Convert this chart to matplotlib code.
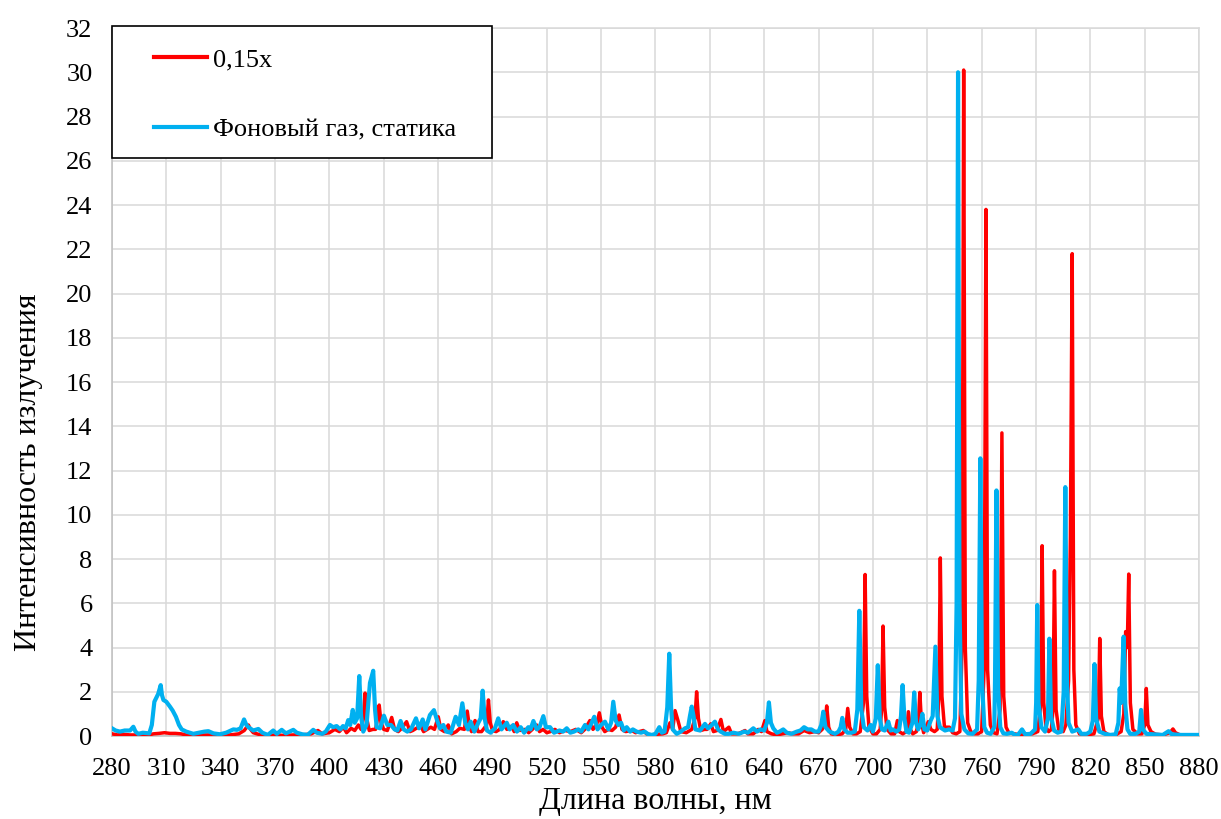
import matplotlib
matplotlib.use('Agg')
import matplotlib.pyplot as plt
from matplotlib.patches import Rectangle


# "Фоновый газ, статика" (blue)
blue_nm = [280, 282, 284.4, 287, 290, 291.8, 293, 294.5, 297, 300.6, 302, 303.4, 305.5, 306.9, 307.6,
           308.4, 310, 312, 313.5, 315.3, 317, 318.5, 321, 324.9, 328, 331, 333.2, 336, 339.6, 343,
           347, 349, 351, 352.9, 354.2, 355.3, 358, 360.8, 363, 366, 369, 371, 373.7, 376, 378,
           380.1, 382, 385, 388, 391.1, 393, 396, 398, 400.3, 402, 404, 406, 407.5, 409, 410.4,
           411.5, 412.9, 414, 415.3, 416.5, 417.5, 418.7, 420.5, 422.4, 424.2, 425.2, 426.1, 428, 430.1, 432,
           434, 436, 437.5, 439.3, 441, 443, 445, 447.8, 449.5, 451.5, 453, 455.5, 457.7, 459.5, 461,
           462.9, 464.5, 467, 469.7, 471.5, 473.4, 475, 476.5, 478, 480, 482.2, 483.5, 484.6, 485.7, 487,
           489, 491.4, 493.2, 495, 497.9, 499.5, 501.5, 503.5, 505.6, 507.5, 509.8, 511, 512.6, 514.5, 516,
           518.1, 519.5, 521.8, 524, 527, 529, 531, 533, 535, 537.4, 539, 541.1, 543, 544.5, 546.2,
           548, 550, 552.1, 554, 555.5, 556.7, 558, 559.5, 561, 562.5, 564.1, 566, 567.5, 569.6, 572,
           574, 576, 578, 580, 582.1, 583.5, 585, 586.5, 587.6, 588.6, 589.5, 591.7, 594, 596.3, 598,
           599, 600, 601, 602, 604.6, 607.3, 609, 610.5, 612.8, 614.5, 616, 618.3, 620.5, 623, 626,
           629, 631, 634, 636, 638, 640, 641.5, 642.6, 643.7, 645, 647, 648.5, 650.5, 652.5, 655,
           658, 660, 662, 664, 666, 668, 670, 671.5, 672.6, 673.8, 676, 679.1, 681, 682.2, 683.1,
           684.2, 686, 688.3, 690, 691.4, 692.5, 693.6, 695, 697, 698.8, 700, 701.6, 702.7, 703.8, 705,
           706.5, 708.5, 709.8, 711, 713, 714.5, 715.5, 716.4, 717.4, 718.5, 720, 721.8, 722.8, 723.8, 725,
           726.2, 727.3, 728.4, 730, 731.9, 733, 734.5, 735.6, 737, 739.8, 742, 744, 745.3, 746.2, 747.0,
           747.8, 748.8, 750.5, 752.6, 755, 757.5, 758.4, 759.3, 760.2, 761.5, 763, 765, 767, 767.4, 768.2,
           769.1, 770.3, 772, 774, 776.6, 778.5, 780, 782.3, 784, 787, 789.5, 790.1, 790.7, 791.4, 793,
           795, 796.6, 797.4, 798.3, 800, 802, 804, 805.3, 806.2, 807.1, 808, 810, 813.4, 815, 818,
           820, 821.4, 822.3, 823.2, 825, 828, 831, 834, 835.5, 836.2, 837, 838.4, 839.3, 840.5, 842,
           845, 847, 848, 849, 851, 855, 860, 863.2, 865, 870, 875, 880]
blue_val = [0.35, 0.25, 0.2, 0.25, 0.25, 0.42, 0.2, 0.1, 0.15, 0.12, 0.5, 1.55, 1.9, 2.3, 1.85,
            1.63, 1.55, 1.33, 1.15, 0.87, 0.5, 0.3, 0.2, 0.1, 0.15, 0.2, 0.22, 0.12, 0.08, 0.15,
            0.3, 0.28, 0.35, 0.75, 0.5, 0.4, 0.25, 0.32, 0.15, 0.05, 0.25, 0.1, 0.28, 0.12, 0.2,
            0.28, 0.15, 0.08, 0.05, 0.28, 0.15, 0.1, 0.2, 0.5, 0.4, 0.45, 0.3, 0.45, 0.35, 0.72,
            0.5, 1.18, 0.6, 0.8, 2.71, 0.9, 0.2, 0.5, 2.4, 2.95, 1.2, 0.4, 0.35, 0.92, 0.5,
            0.5, 0.3, 0.25, 0.68, 0.3, 0.2, 0.3, 0.8, 0.35, 0.75, 0.3, 0.95, 1.17, 0.7, 0.35,
            0.5, 0.2, 0.15, 0.87, 0.5, 1.48, 0.6, 0.3, 0.65, 0.2, 0.6, 0.8, 2.05, 0.8, 0.25,
            0.15, 0.35, 0.8, 0.3, 0.6, 0.3, 0.5, 0.2, 0.4, 0.15, 0.4, 0.3, 0.68, 0.3, 0.4,
            0.9, 0.4, 0.4, 0.15, 0.25, 0.2, 0.35, 0.15, 0.2, 0.3, 0.2, 0.5, 0.3, 0.55, 0.87,
            0.3, 0.5, 0.65, 0.3, 0.6, 1.55, 0.7, 0.5, 0.6, 0.25, 0.4, 0.2, 0.3, 0.2, 0.15,
            0.2, 0.08, 0.05, 0.1, 0.4, 0.15, 0.2, 1.3, 3.72, 1.3, 0.3, 0.1, 0.2, 0.35, 0.4,
            0.9, 1.33, 0.9, 0.3, 0.25, 0.55, 0.35, 0.45, 0.65, 0.3, 0.2, 0.1, 0.1, 0.15, 0.1,
            0.2, 0.15, 0.35, 0.2, 0.3, 0.25, 0.6, 1.52, 0.6, 0.35, 0.15, 0.2, 0.3, 0.15, 0.1,
            0.2, 0.25, 0.4, 0.3, 0.3, 0.2, 0.2, 0.5, 1.1, 0.4, 0.2, 0.1, 0.2, 0.4, 0.82,
            0.3, 0.15, 0.15, 0.2, 1.2, 5.66, 1.2, 0.4, 0.25, 0.5, 0.2, 0.8, 3.2, 0.8, 0.3,
            0.25, 0.65, 0.25, 0.3, 0.2, 0.3, 0.9, 2.3, 0.8, 0.2, 0.15, 0.6, 1.97, 0.6, 0.3,
            0.5, 1.0, 0.3, 0.25, 0.7, 0.9, 4.04, 0.9, 0.4, 0.25, 0.3, 0.25, 0.8, 6.0, 30.0,
            6.0, 1.0, 0.3, 0.12, 0.1, 0.3, 2.5, 12.55, 2.5, 0.4, 0.15, 0.1, 0.4, 2.5, 11.1,
            2.2, 0.4, 0.12, 0.1, 0.15, 0.05, 0.05, 0.3, 0.08, 0.1, 0.3, 1.5, 5.92, 1.5, 0.4,
            0.2, 0.8, 4.4, 0.9, 0.25, 0.15, 0.2, 2.0, 11.25, 2.5, 0.6, 0.2, 0.3, 0.1, 0.1,
            0.2, 0.7, 3.25, 0.8, 0.2, 0.1, 0.05, 0.08, 0.6, 2.15, 1.5, 4.49, 1.4, 0.3, 0.1,
            0.1, 0.2, 1.18, 0.3, 0.1, 0.08, 0.05, 0.22, 0.08, 0.05, 0.05, 0.05]

# "0,15x" (red)
red_nm = [280, 283, 286, 290, 295, 300, 303, 306, 309, 312, 315, 318, 321, 325, 330,
          335, 340, 345, 350, 353, 355.3, 356.5, 358, 362, 366, 370, 375, 380, 385, 390,
          393.7, 396, 400, 403, 405.5, 407.7, 409.5, 412, 414, 416, 417.5, 418.8, 419.7, 420.6, 422,
          424, 425.5, 426.6, 427.5, 428.5, 430, 432, 434.4, 436, 438, 440, 442.6, 444.5, 446, 448,
          450.4, 452, 454, 456, 458, 460.1, 461.5, 463.5, 465.6, 467.5, 470, 472, 474.5, 476.1, 477.3,
          478.5, 480.4, 482, 484, 486.8, 487.8, 488.8, 490, 492, 494, 496, 498, 500.6, 502, 503.4,
          505, 508, 510, 512, 514.4, 516, 518, 520, 522, 524.5, 527, 530, 533, 536, 539,
          541, 543.8, 545.5, 547.5, 549, 550.5, 552, 554, 556, 558, 559.9, 561.5, 563.5, 566.9, 569,
          571, 573.3, 575, 578, 581, 584, 586, 588, 589.5, 590.8, 592.4, 594, 597, 600, 601.8,
          602.7, 603.7, 605, 607, 608.5, 610.5, 612, 614, 616.1, 617.5, 620.5, 622, 625, 627, 629.4,
          631, 634, 636.7, 638.5, 640.4, 641.5, 644, 647, 650, 653, 656, 659, 662, 665, 668,
          670, 672, 673.6, 674.5, 675.6, 677, 680, 683, 685, 686.1, 687.2, 689, 691, 693, 694.8,
          695.7, 696.6, 697.8, 700, 702, 704, 704.8, 705.6, 706.5, 707.8, 710, 712, 713.5, 714.5, 716.5,
          718.5, 719.6, 720.7, 722, 724, 725.1, 725.9, 726.8, 728, 730.6, 732, 734, 735.5, 736.4, 737.2,
          738.1, 739.5, 742.2, 744, 746, 748, 749.2, 750.1, 751.0, 752.3, 754, 756, 758, 760, 761.4,
          762.4, 763.3, 764.8, 766.5, 768.5, 770.2, 771.2, 772.2, 773.5, 775, 778, 782, 785, 788, 791,
          792.5, 793.4, 794.3, 795.5, 797, 798.5, 799.4, 800.2, 801.1, 802.5, 805, 806.5, 808, 809, 810,
          810.9, 812, 814, 818, 822, 824.4, 825.2, 826.1, 827.5, 830, 834, 837, 838.5, 839.5, 840.4,
          841.2, 842.1, 843.5, 846, 848.5, 850, 850.9, 851.8, 853.5, 856, 860, 864, 865.6, 867, 870,
          875, 880]
red_val = [0.1, 0.05, 0.08, 0.05, 0.05, 0.05, 0.1, 0.12, 0.15, 0.12, 0.12, 0.1, 0.05, 0.03, 0.05,
           0.05, 0.03, 0.05, 0.1, 0.25, 0.5, 0.3, 0.15, 0.05, 0.02, 0.05, 0.03, 0.05, 0.05, 0.1,
           0.25, 0.1, 0.15, 0.3, 0.2, 0.4, 0.15, 0.35, 0.25, 0.5, 0.3, 0.8, 1.94, 0.8, 0.25,
           0.3, 0.3, 0.8, 1.4, 0.6, 0.3, 0.25, 0.84, 0.3, 0.2, 0.35, 0.65, 0.2, 0.25, 0.35,
           0.45, 0.2, 0.3, 0.4, 0.3, 0.87, 0.3, 0.2, 0.5, 0.1, 0.2, 0.35, 0.3, 1.13, 0.4,
           0.2, 0.7, 0.2, 0.2, 0.5, 1.63, 0.6, 0.25, 0.2, 0.3, 0.65, 0.3, 0.45, 0.2, 0.6,
           0.25, 0.3, 0.15, 0.3, 0.5, 0.2, 0.3, 0.15, 0.2, 0.3, 0.15, 0.25, 0.2, 0.3, 0.15,
           0.3, 0.7, 0.3, 0.5, 1.05, 0.4, 0.2, 0.3, 0.25, 0.4, 0.95, 0.3, 0.2, 0.25, 0.15,
           0.2, 0.25, 0.1, 0.05, 0.08, 0.1, 0.15, 0.6, 0.3, 1.15, 0.7, 0.2, 0.15, 0.3, 0.8,
           2.0, 0.8, 0.25, 0.3, 0.3, 0.55, 0.2, 0.25, 0.75, 0.2, 0.4, 0.1, 0.1, 0.15, 0.25,
           0.1, 0.1, 0.3, 0.2, 0.7, 0.2, 0.1, 0.05, 0.1, 0.15, 0.1, 0.1, 0.25, 0.15, 0.2,
           0.15, 0.3, 0.6, 1.36, 0.4, 0.1, 0.05, 0.1, 0.3, 1.25, 0.4, 0.1, 0.1, 0.2, 1.5,
           7.3, 1.8, 0.4, 0.1, 0.1, 0.3, 1.2, 4.97, 1.3, 0.3, 0.1, 0.1, 0.7, 0.2, 0.1,
           0.2, 1.1, 0.3, 0.1, 0.2, 0.6, 1.97, 0.6, 0.15, 0.65, 0.3, 0.2, 0.3, 1.8, 8.05,
           1.8, 0.4, 0.4, 0.15, 0.1, 0.2, 4.0, 30.1, 4.0, 0.6, 0.2, 0.1, 0.1, 0.2, 3.0,
           23.8, 3.0, 0.5, 0.15, 0.1, 1.2, 13.7, 1.8, 0.4, 0.15, 0.1, 0.05, 0.1, 0.1, 0.2,
           1.3, 8.6, 1.5, 0.4, 0.2, 0.3, 1.2, 7.47, 1.2, 0.3, 0.2, 0.5, 2.5, 9.0, 21.8,
           3.0, 0.5, 0.1, 0.05, 0.1, 0.8, 4.41, 0.9, 0.2, 0.05, 0.05, 0.2, 1.0, 4.72, 4.0,
           7.32, 1.5, 0.3, 0.1, 0.1, 0.5, 2.15, 0.5, 0.2, 0.08, 0.05, 0.15, 0.32, 0.15, 0.03,
           0.02, 0.02]

x_ticks = list(range(280, 881, 30))
y_ticks = list(range(0, 33, 2))

plt.rcParams['font.family'] = ['Liberation Serif', 'DejaVu Serif']

fig = plt.figure(figsize=(12.21, 8.19), dpi=100)
ax = fig.add_axes([0.0917, 0.1013, 0.8903, 0.8645])

ax.plot(red_nm, red_val, color='#FF0000', lw=2.5, label='0,15x', zorder=3)
ax.plot(blue_nm, blue_val, color='#00B0F0', lw=3.0, label='Фоновый газ, статика', zorder=4)

ax.set_xlim(280, 880)
ax.set_ylim(0, 32)
ax.set_xticks(x_ticks)
ax.set_yticks(y_ticks)
ax.grid(True, color='#D9D9D9', lw=1.1, zorder=0)
ax.set_axisbelow(True)
ax.tick_params(length=0, labelsize=19)
ax.tick_params(axis='x', pad=16)
ax.tick_params(axis='y', pad=14)
for s in ['top', 'right']:
    ax.spines[s].set_color('#D9D9D9')
    ax.spines[s].set_linewidth(1.1)
for s in ['left', 'bottom']:
    ax.spines[s].set_color('#BFBFBF')
    ax.spines[s].set_linewidth(1.1)

ax.set_xlabel('Длина волны, нм', fontsize=23, labelpad=5)
ax.set_ylabel('Интенсивность излучения', fontsize=23)
ax.yaxis.set_label_coords(-0.063, 0.373)

# legend box
box = Rectangle((112/1221, 1-158/819), 380/1221, 132/819, transform=fig.transFigure,
                facecolor='white', edgecolor='black', lw=1.2, zorder=5, clip_on=False)
ax.add_artist(box)
leg = ax.legend(loc='upper left', bbox_to_anchor=(154/1221, 1-48/819), bbox_transform=fig.transFigure,
                frameon=False, fontsize=19, handlelength=2.0, handletextpad=0.25,
                labelspacing=1.75, borderpad=0, borderaxespad=0)
leg.set_zorder(6)
for line in leg.get_lines():
    line.set_linewidth(3)

fig.savefig('out.png', dpi=100)
